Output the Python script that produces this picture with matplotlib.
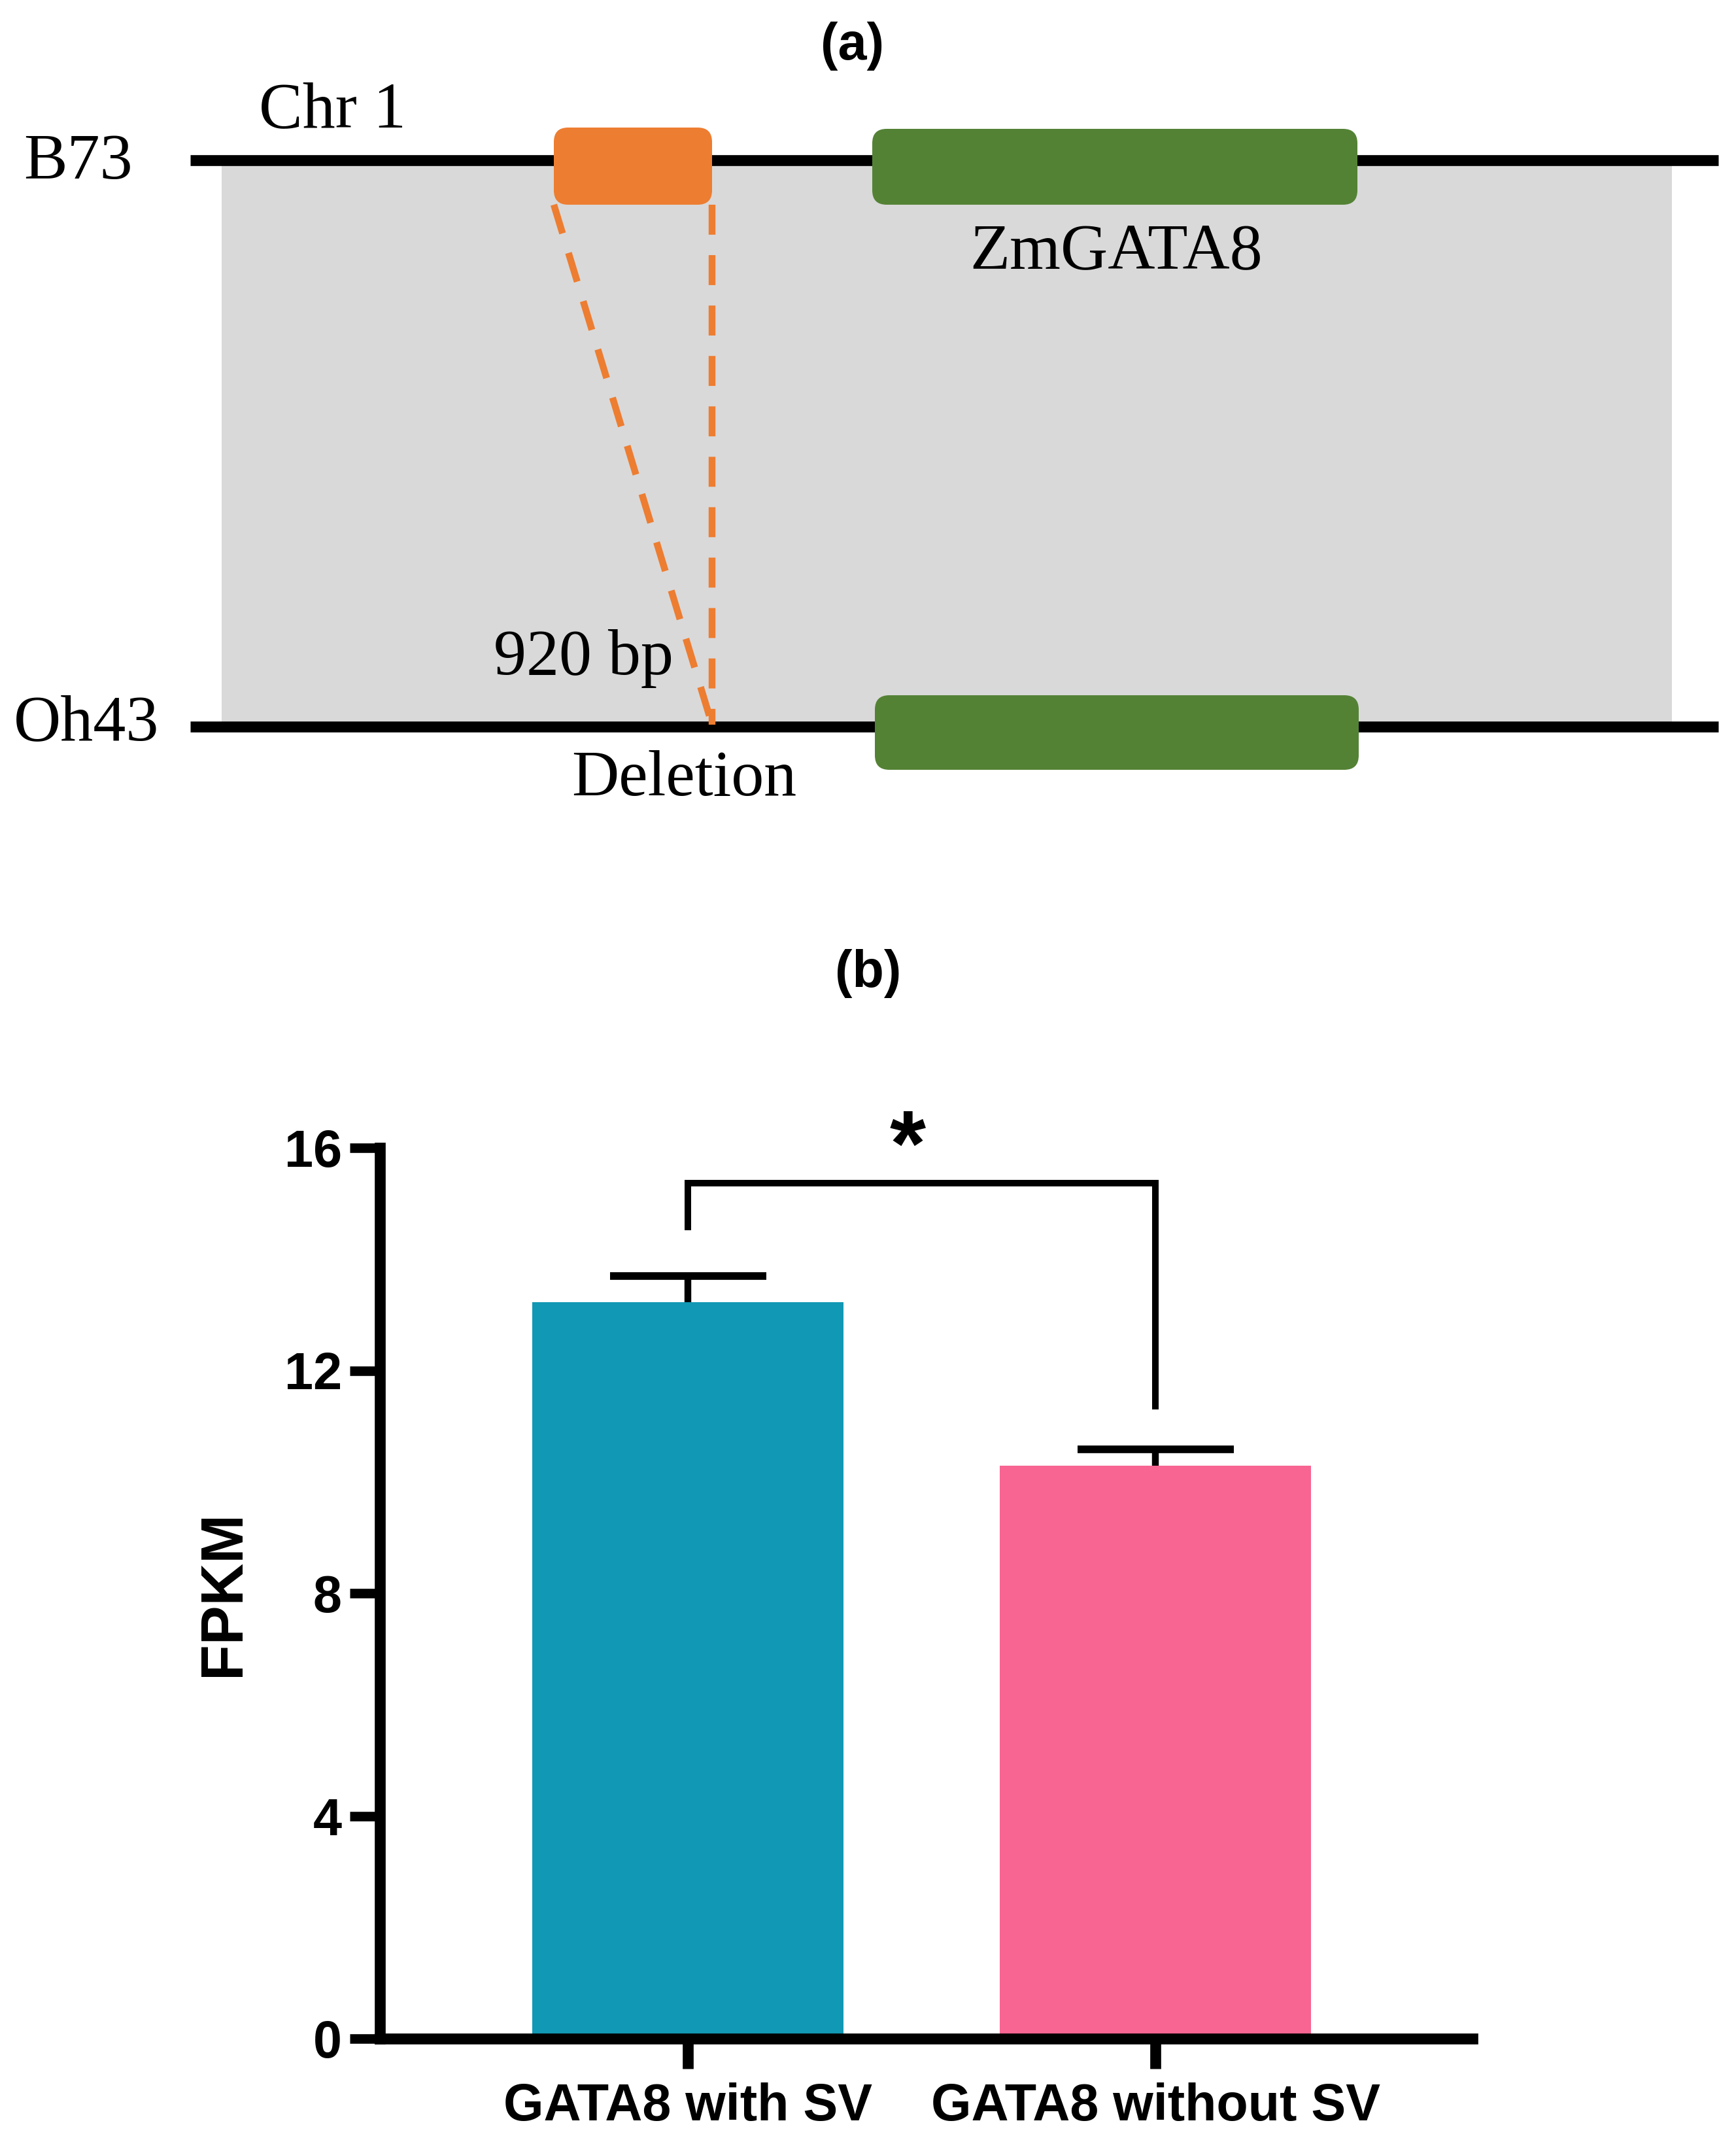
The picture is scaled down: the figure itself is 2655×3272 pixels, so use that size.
import numpy as np
import matplotlib
matplotlib.use("Agg")
import matplotlib.pyplot as plt
from matplotlib.patches import FancyBboxPatch, Rectangle

# ---- panel (a): schematic, coordinates in image pixels of the top panel ----
track_x = [291, 2628]          # chromosome line extent
track_y = [245, 1111]          # B73, Oh43
track_names = ["B73", "Oh43"]
shade_x = [339, 2557]           # grey synteny band
shade_y = [253, 1104]
sv_box = [847, 1089, 195, 313]  # x0, x1, y0, y1 (orange insertion in B73)
gene_boxes = [[1334, 2076, 197, 313], [1338, 2078, 1063, 1177]]
del_point = [1089, 1108]        # where the SV collapses in Oh43

# ---- panel (b): bar chart ----
groups = ["GATA8 with SV", "GATA8 without SV"]
fpkm = [13.23, 10.29]
sem = [0.47, 0.29]
bar_colors = ["#1198B4", "#F86592"]
yticks = [0, 4, 8, 12, 16]
bracket_y = 15.36
bracket_left_bottom = 14.58
bracket_right_bottom = 11.36

fig = plt.figure(figsize=(2655 / 300, 3272 / 300), dpi=300)

serif = "Liberation Serif"
sans = "Liberation Sans"

ax_a = fig.add_axes([0, 1 - 1300 / 3272, 1, 1300 / 3272])
ax_a.set_xlim(0, 2655)
ax_a.set_ylim(1300, 0)
ax_a.axis("off")

ax_a.add_patch(Rectangle((shade_x[0], shade_y[0]), shade_x[1] - shade_x[0],
                         shade_y[1] - shade_y[0], color="#D9D9D9", lw=0, zorder=1))
for y in track_y:
    ax_a.plot(track_x, [y, y], color="black", lw=4, solid_capstyle="butt", zorder=2)

# dashed lines showing the 920 bp deletion
ax_a.plot([sv_box[0], del_point[0]], [sv_box[3], del_point[1]], color="#ED7D31",
          lw=2.5, dashes=(4.4, 3.0), zorder=3)
ax_a.plot([sv_box[1], del_point[0]], [sv_box[3], del_point[1]], color="#ED7D31",
          lw=2.5, dashes=(4.4, 3.0), zorder=3)

ax_a.add_patch(FancyBboxPatch((sv_box[0], sv_box[2]), sv_box[1] - sv_box[0],
                              sv_box[3] - sv_box[2], boxstyle="round,pad=0,rounding_size=22",
                              fc="#ED7D31", ec="none", zorder=4))
for g in gene_boxes:
    ax_a.add_patch(FancyBboxPatch((g[0], g[2]), g[1] - g[0], g[3] - g[2],
                                  boxstyle="round,pad=0,rounding_size=22",
                                  fc="#548235", ec="none", zorder=4))

ax_a.text(1304, 70, "(a)", fontsize=19, fontweight="bold", family=sans,
          ha="center", va="center")
ax_a.text(508, 170, "Chr 1", fontsize=24, family=serif, ha="center", va="center")
ax_a.text(119, 249, track_names[0], fontsize=24, family=serif, ha="center", va="center")
ax_a.text(132, 1107, track_names[1], fontsize=24, family=serif, ha="center", va="center")
ax_a.text(1707, 386, "ZmGATA8", fontsize=24, family=serif, ha="center", va="center")
ax_a.text(892, 1007, "920 bp", fontsize=24, family=serif, ha="center", va="center")
ax_a.text(1046, 1192, "Deletion", fontsize=24, family=serif, ha="center", va="center")

# ---- panel (b) ----
fig.text(1328 / 2655, 1 - 1489 / 3272, "(b)", fontsize=19, fontweight="bold",
         family=sans, ha="center", va="center")

ax = fig.add_axes([581 / 2655, 1 - 3117 / 3272, 1671 / 2655, (3117 - 1755) / 3272])
x = np.arange(len(groups))
ax.bar(x, fpkm, width=0.666, color=bar_colors, zorder=2)

# upper-only error bars (stem + cap)
tops = np.array(fpkm) + np.array(sem)
ax.vlines(x, fpkm, tops, color="black", lw=2.5, zorder=3)
ax.hlines(tops, x - 0.167, x + 0.167, color="black", lw=2.8, zorder=3)

ax.plot([x[0], x[0], x[1], x[1]],
        [bracket_left_bottom, bracket_y, bracket_y, bracket_right_bottom],
        color="black", lw=2.4, solid_joinstyle="miter", clip_on=False)
ax.text(0.47, 15.95, "*", fontsize=34, fontweight="bold", family=sans,
        ha="center", va="center")

ax.set_xlim(-0.659, 1.678)
ax.set_ylim(0, 16)
ax.set_yticks(yticks)
ax.set_xticks(x)
ax.set_xticklabels(groups, fontsize=19, fontweight="bold", family=sans)
for lab in ax.get_yticklabels():
    lab.set_fontsize(19)
    lab.set_fontweight("bold")
    lab.set_family(sans)
ax.set_ylabel("FPKM", fontsize=21.5, fontweight="bold", family=sans, labelpad=12)

ax.spines["top"].set_visible(False)
ax.spines["right"].set_visible(False)
ax.spines["left"].set_linewidth(4)
ax.spines["bottom"].set_linewidth(4)
ax.tick_params(axis="y", length=11, width=3.5, pad=3)
ax.tick_params(axis="x", length=11, width=4, pad=5)

fig.savefig("out.png", dpi=300)
